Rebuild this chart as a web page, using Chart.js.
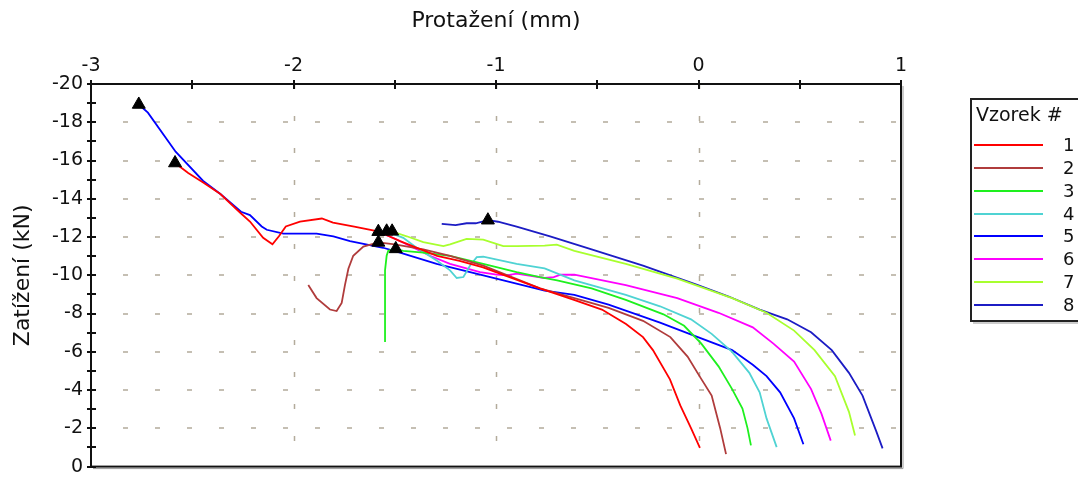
<!DOCTYPE html>
<html>
<head>
<meta charset="utf-8">
<script src="https://cdn.jsdelivr.net/npm/chart.js@4.4.1/dist/chart.umd.min.js"></script>
<style>
  html, body { margin: 0; padding: 0; background: #fff; }
  #wrap { width: 1078px; height: 486px; }
</style>
</head>
<body>
<div id="wrap"><canvas id="myChart" width="1078" height="486"></canvas></div>
<script>
// Vzorek # 1..8 : protažení (mm) / zatížení (kN), od začátku zkoušky k maximu a dál
var seriesNames = ['1', '2', '3', '4', '5', '6', '7', '8'];
var seriesColors = ['#ff0000', '#b03c3c', '#1ef01e', '#4fd3d3', '#0000ff', '#ff00ff', '#a8ff2e', '#1c1cc4'];

var x1 = [0.007, -0.037, -0.09, -0.141, -0.225, -0.274, -0.358, -0.477, -0.615, -0.783, -0.92, -1.064, -1.18, -1.291, -1.474, -1.583, -1.70, -1.805, -1.86, -1.968, -2.038, -2.072, -2.104, -2.15, -2.215, -2.259, -2.361, -2.446, -2.52, -2.585];
var y1 = [-0.98, -2.01, -3.2, -4.56, -6.09, -6.77, -7.45, -8.21, -8.72, -9.32, -9.85, -10.41, -10.75, -11.02, -11.79, -12.3, -12.55, -12.75, -12.97, -12.81, -12.55, -12.04, -11.62, -11.96, -12.81, -13.23, -14.25, -14.85, -15.35, -15.87];

var x2 = [0.136, 0.107, 0.065, 0.005, -0.054, -0.139, -0.274, -0.444, -0.613, -0.783, -1.063, -1.227, -1.359, -1.50, -1.581, -1.655, -1.705, -1.729, -1.746, -1.762, -1.787, -1.82, -1.886, -1.927];
var y2 = [-0.65, -2.01, -3.71, -4.73, -5.75, -6.77, -7.62, -8.3, -8.81, -9.32, -10.51, -11.02, -11.36, -11.62, -11.72, -11.5, -11.02, -10.34, -9.49, -8.56, -8.13, -8.21, -8.81, -9.49];

var x3 = [0.259, 0.242, 0.217, 0.166, 0.099, 0.014, -0.071, -0.173, -0.359, -0.528, -0.698, -0.783, -0.898, -1.063, -1.227, -1.359, -1.458, -1.495, -1.532, -1.54, -1.548, -1.548];
var y3 = [-1.11, -2.01, -3.03, -4.05, -5.24, -6.43, -7.36, -7.96, -8.72, -9.32, -9.74, -9.91, -10.17, -10.6, -11.02, -11.19, -11.28, -11.38, -11.28, -11.02, -10.26, -6.51];

var x4 = [0.386, 0.336, 0.302, 0.251, 0.166, 0.065, -0.037, -0.19, -0.359, -0.613, -0.76, -0.898, -1.063, -1.095, -1.128, -1.161, -1.194, -1.227, -1.293, -1.392, -1.458, -1.54];
var y4 = [-1.02, -2.52, -3.88, -4.9, -6.0, -6.94, -7.7, -8.38, -8.98, -9.74, -10.36, -10.6, -10.97, -10.95, -10.51, -9.91, -9.86, -10.26, -10.77, -11.44, -11.96, -12.3];

var x5 = [0.518, 0.472, 0.403, 0.336, 0.268, 0.166, -0.003, -0.19, -0.444, -0.613, -0.76, -1.063, -1.293, -1.474, -1.557, -1.721, -1.803, -1.886, -2.05, -2.132, -2.157, -2.215, -2.259, -2.361, -2.446, -2.582, -2.719, -2.764];
var y5 = [-1.17, -2.52, -3.88, -4.73, -5.32, -6.09, -6.77, -7.53, -8.47, -8.98, -9.2, -10.0, -10.6, -11.19, -11.44, -11.79, -12.04, -12.18, -12.18, -12.38, -12.55, -13.15, -13.32, -14.25, -14.93, -16.46, -18.5, -18.93];

var x6 = [0.653, 0.607, 0.556, 0.472, 0.37, 0.268, 0.099, -0.105, -0.359, -0.613, -0.681, -0.715, -0.76, -0.898, -0.947, -0.997, -1.079, -1.227, -1.326, -1.425, -1.49, -1.581];
var y6 = [-1.36, -2.77, -4.05, -5.49, -6.43, -7.28, -8.04, -8.81, -9.49, -10.03, -10.03, -9.91, -9.86, -10.09, -10.0, -10.03, -10.17, -10.6, -11.02, -11.53, -11.87, -12.28];

var x7 = [0.773, 0.743, 0.674, 0.573, 0.472, 0.336, 0.166, -0.105, -0.359, -0.613, -0.70, -0.76, -0.898, -0.964, -1.063, -1.145, -1.227, -1.26, -1.359, -1.441, -1.49, -1.513];
var y7 = [-1.63, -2.86, -4.73, -6.09, -7.11, -8.04, -8.81, -9.83, -10.6, -11.28, -11.6, -11.55, -11.53, -11.53, -11.87, -11.9, -11.62, -11.53, -11.73, -12.04, -12.21, -12.3];

var x8 = [0.909, 0.878, 0.81, 0.743, 0.658, 0.556, 0.438, 0.302, 0.149, -0.003, -0.274, -0.528, -0.733, -0.898, -0.99, -1.04, -1.10, -1.145, -1.20, -1.268];
var y8 = [-0.95, -1.84, -3.71, -4.9, -6.09, -7.02, -7.7, -8.21, -8.89, -9.49, -10.51, -11.36, -12.04, -12.55, -12.8, -12.88, -12.72, -12.72, -12.62, -12.69];

var xs = [x1, x2, x3, x4, x5, x6, x7, x8];
var ys = [y1, y2, y3, y4, y5, y6, y7, y8];

var FONT = "'DejaVu Sans', Verdana, sans-serif";

function points(xa, ya) {
    return xa.map(function (v, i) { return {x: v, y: ya[i]}; });
}

// maximum zatížení (nejzápornější hodnota) každého vzorku -> trojúhelník
function peakOf(xa, ya) {
    var k = 0;
    for (var i = 1; i < ya.length; i++) if (ya[i] < ya[k]) k = i;
    return {x: xa[k], y: ya[k]};
}

var datasets = seriesNames.map(function (name, i) {
    return {
        label: name,
        data: points(xs[i], ys[i]),
        showLine: true,
        borderColor: seriesColors[i],
        borderWidth: 1.8,
        pointRadius: 0,
        tension: 0
    };
});
datasets.push({
    label: 'max',
    data: xs.map(function (xa, i) { return peakOf(xa, ys[i]); }),
    showLine: false,
    pointStyle: 'triangle',
    pointRadius: 7.5,
    pointBackgroundColor: '#000',
    pointBorderColor: '#000',
    pointBorderWidth: 1,
    order: -1
});

var frame = {
    id: 'frame',
    beforeDatasetsDraw: function (chart) {
        var c = chart.ctx, a = chart.chartArea, sx = chart.scales.x, sy = chart.scales.y;
        c.save();
        c.strokeStyle = '#b3ab9b';
        c.lineWidth = 1.5;
        c.setLineDash([5, 27]);
        sx.ticks.forEach(function (t) {
            if (t.value <= sx.min || t.value >= sx.max) return;
            var px = Math.round(sx.getPixelForValue(t.value)) + 0.5;
            c.beginPath(); c.moveTo(px, a.top); c.lineTo(px, a.bottom); c.stroke();
        });
        sy.ticks.forEach(function (t) {
            if (t.value <= sy.min || t.value >= sy.max) return;
            var py = Math.round(sy.getPixelForValue(t.value));
            c.beginPath(); c.moveTo(a.left, py); c.lineTo(a.right, py); c.stroke();
        });
        c.restore();
    },
    afterDatasetsDraw: function (chart) {
        var c = chart.ctx, a = chart.chartArea, sx = chart.scales.x, sy = chart.scales.y;
        c.save();
        // stín pravé a dolní hrany
        c.strokeStyle = '#9a9a9a';
        c.lineWidth = 1;
        c.beginPath();
        c.moveTo(a.right + 2, a.top + 2); c.lineTo(a.right + 2, a.bottom + 2); c.lineTo(a.left + 2, a.bottom + 2);
        c.stroke();
        c.strokeStyle = '#111';
        c.lineWidth = 2;
        c.strokeRect(a.left, a.top, a.right - a.left, a.bottom - a.top);
        // značky os: hlavní i vedlejší
        var i, v, p;
        var stepX = sx.ticks[1].value - sx.ticks[0].value;
        c.beginPath();
        for (i = 0; i < sx.ticks.length; i++) {
            for (v = sx.ticks[i].value; v < sx.ticks[i].value + stepX && v <= sx.max + 1e-9; v += stepX / 2) {
                p = Math.round(sx.getPixelForValue(v));
                c.moveTo(p, a.top - 4); c.lineTo(p, a.top + 5);
            }
        }
        var vals = sy.ticks.map(function (t) { return t.value; });
        var stepY = Math.abs(vals[1] - vals[0]);
        for (v = sy.min; v <= sy.max + 1e-9; v += stepY / 2) {
            p = Math.round(sy.getPixelForValue(v));
            c.moveTo(a.left - 4, p); c.lineTo(a.left + 5, p);
        }
        c.stroke();
        c.restore();
    },
    afterDraw: function (chart) {
        // legenda
        var c = chart.ctx;
        var left = 971, top = 99, bottom = 321;
        c.save();
        c.strokeStyle = '#9a9a9a';
        c.lineWidth = 1;
        c.beginPath(); c.moveTo(left + 2, bottom + 2); c.lineTo(1078, bottom + 2); c.stroke();
        c.strokeStyle = '#222';
        c.lineWidth = 2;
        c.strokeRect(left, top, 130, bottom - top);
        c.fillStyle = '#111';
        c.textBaseline = 'middle';
        c.font = '19px ' + FONT;
        c.fillText('Vzorek #', 976, 116);
        c.font = '18px ' + FONT;
        seriesNames.forEach(function (name, i) {
            var yy = Math.round(145 + i * 22.85);
            c.strokeStyle = seriesColors[i];
            c.lineWidth = 2;
            c.beginPath(); c.moveTo(974, yy); c.lineTo(1043, yy); c.stroke();
            c.fillText(name, 1063, yy + 1);
        });
        c.restore();
    }
};

var ctx = document.getElementById('myChart').getContext('2d');
var myChart = new Chart(ctx, {
    type: 'scatter',
    data: { datasets: datasets },
    options: {
        responsive: false,
        animation: false,
        devicePixelRatio: 1,
        layout: { padding: { left: 0, top: 0, right: 177, bottom: 10 } },
        plugins: { legend: { display: false }, tooltip: { enabled: false } },
        scales: {
            x: {
                type: 'linear',
                position: 'top',
                min: -3,
                max: 1,
                ticks: { stepSize: 1, padding: 7, color: '#111', font: { family: FONT, size: 19 } },
                grid: { display: false, drawTicks: false },
                border: { display: false },
                title: {
                    display: true,
                    text: 'Protažení (mm)',
                    color: '#111',
                    font: { family: FONT, size: 22 },
                    padding: { top: 8, bottom: 0 }
                },
                afterFit: function (scale) { scale.height = 84; }
            },
            y: {
                type: 'linear',
                min: -20,
                max: 0,
                reverse: true,
                ticks: { stepSize: 2, padding: 8, color: '#111', font: { family: FONT, size: 19 } },
                grid: { display: false, drawTicks: false },
                border: { display: false },
                title: {
                    display: true,
                    text: 'Zatížení (kN)',
                    color: '#111',
                    font: { family: FONT, size: 22 },
                    padding: { top: 10, bottom: 0 }
                },
                afterFit: function (scale) { scale.width = 91; }
            }
        }
    },
    plugins: [frame]
});
</script>
</body>
</html>
